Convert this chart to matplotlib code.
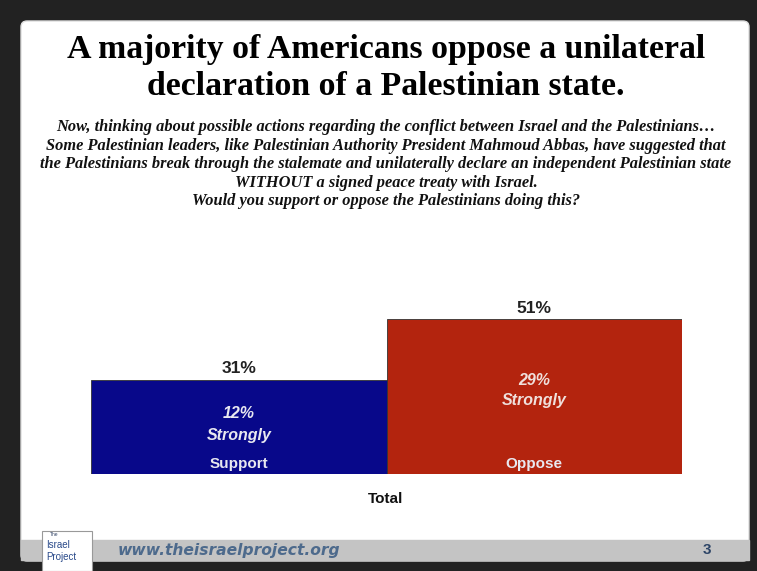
"""Slide: support / oppose a unilateral Palestinian declaration."""

import matplotlib
matplotlib.use("Agg")
import matplotlib.pyplot as plt
from matplotlib.patches import Rectangle, FancyBboxPatch

# datos
categorias = ["Support", "Oppose"]
totales = [31, 51]
fuertemente = [12, 29]
colores = ["#08088a", "#b3240e"]

titulo = "A majority of Americans oppose a unilateral\ndeclaration of a Palestinian state."
pregunta = [
    "Now, thinking about possible actions regarding the conflict between Israel and the Palestinians\u2026",
    "Some Palestinian leaders, like Palestinian Authority President Mahmoud Abbas, have suggested that",
    "the Palestinians break through the stalemate and unilaterally declare an independent Palestinian state",
    "WITHOUT a signed peace treaty with Israel.",
    "Would you support or oppose the Palestinians doing this?",
]

W, H = 757, 571
fig = plt.figure(figsize=(W / 100, H / 100), dpi=100)
fig.patch.set_facecolor("#222222")

# fondo en coordenadas de pixel (y hacia abajo)
bg = fig.add_axes([0, 0, 1, 1])
bg.set_xlim(0, W)
bg.set_ylim(H, 0)
bg.axis("off")
bg.add_patch(Rectangle((0, 0), W, H, color="#222222"))
bg.add_patch(FancyBboxPatch((21, 21), 728, 540, boxstyle="round,pad=0,rounding_size=6",
                            fc="white", ec="#dddddd", lw=1))
bg.add_patch(Rectangle((21, 540), 728, 20, color="#c4c4c4"))

bg.text(386, 68, titulo, ha="center", va="center", fontsize=24.3, fontweight="bold",
        family="Liberation Serif", color="black", linespacing=1.26)
for i, linea in enumerate(pregunta):
    bg.text(386, 127 + i * 18.6, linea, ha="center", va="center", fontsize=11.8,
            fontweight="bold", style="italic", family="Liberation Serif", color="#111111")

# pie de pagina
bg.add_patch(Rectangle((42, 531), 50, 40, fc="white", ec="#999999", lw=0.8))
bg.text(50, 535, "The", fontsize=3.5, color="#334466", family="Liberation Sans", va="center")
bg.text(46, 545, "Israel", fontsize=7, color="#2a4a8a", family="Liberation Sans", va="center")
bg.text(46, 557, "Project", fontsize=7, color="#2a4a8a", family="Liberation Sans", va="center")
bg.text(118, 550, "www.theisraelproject.org", fontsize=11.2, fontweight="bold", style="italic",
        family="DejaVu Sans", color="#4d6a8c", va="center", ha="left")
bg.text(707, 550, "3", fontsize=11, fontweight="bold", family="Liberation Sans",
        color="#2c4466", va="center", ha="center")

# grafica de barras
x0, x1, yb = 91, 682, 474
ax = fig.add_axes([x0 / W, (H - yb) / H, (x1 - x0) / W, 182 / H])
ax.set_xlim(-0.5, 1.5)
ax.set_ylim(0, 60)
ax.axis("off")
barras = ax.bar(range(len(categorias)), totales, width=1.0, color=colores,
                edgecolor="#333333", linewidth=0.6)

for i in range(len(categorias)):
    ax.text(i, totales[i] + 1.2, f"{totales[i]}%", ha="center", va="bottom",
            fontsize=12.5, fontweight="bold", family="Liberation Sans", color="#222222")
    ax.text(i, 3.3, categorias[i], ha="center", va="center", fontsize=11,
            fontweight="bold", family="Liberation Sans", color="#e8e8f0")

ax.text(0, 16.3, f"{fuertemente[0]}%\nStrongly", ha="center", va="center", fontsize=11.5,
        fontweight="bold", style="italic", family="Liberation Sans", color="#e8e8f0",
        linespacing=1.55)
ax.text(1, 27.5, f"{fuertemente[1]}%\nStrongly", ha="center", va="center", fontsize=11.5,
        fontweight="bold", style="italic", family="Liberation Sans", color="#f0e0dc",
        linespacing=1.45)

bg.text(386, 499, "Total", ha="center", va="center", fontsize=11, fontweight="bold",
        family="Liberation Sans", color="#111111")

fig.savefig("out.png", dpi=100)
